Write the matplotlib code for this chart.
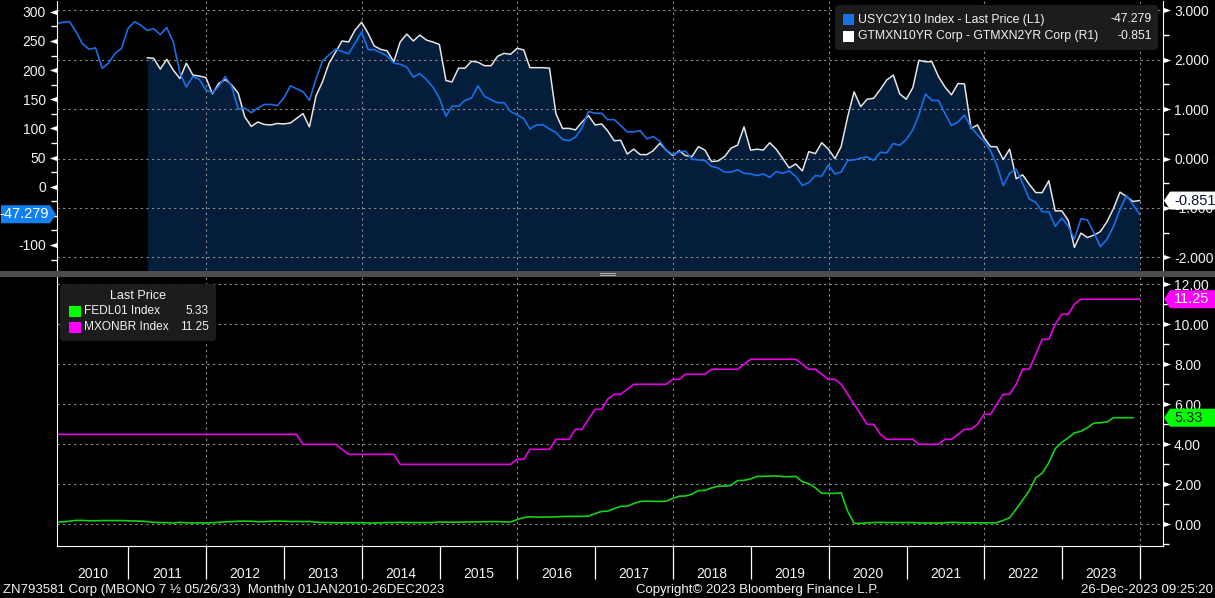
import numpy as np
import pandas as pd
import matplotlib
matplotlib.use('Agg')
import matplotlib.pyplot as plt
import matplotlib.dates as mdates
import matplotlib.ticker as mticker
import matplotlib.transforms as mtransforms
from matplotlib.patches import Polygon, Rectangle, FancyBboxPatch
from matplotlib.lines import Line2D
from matplotlib.path import Path

plt.rcParams['font.family'] = ['Liberation Sans', 'DejaVu Sans']

# month-end points, Jan 2010 .. Dec 2023
months = pd.date_range('2010-02-01', periods=168, freq='MS') - pd.Timedelta(days=1)

# USYC2Y10 Index (bp, left axis L1)
usyc2y10 = [
    280, 282, 283, 266, 245, 236, 238, 203, 212, 229, 237, 272,
    283, 277, 268, 271, 261, 273, 248, 195, 171, 189, 184, 166,
    161, 172, 189, 172, 133, 135, 127, 135, 141, 141, 139, 152,
    173, 168, 163, 148, 185, 215, 226, 236, 232, 228, 246, 265,
    235, 235, 230, 224, 212, 210, 205, 188, 194, 184, 171, 152,
    121, 138, 138, 148, 152, 173, 155, 149, 144, 144, 129, 123,
    117, 99, 106, 106, 99, 93, 81, 79, 85, 101, 129, 126,
    126, 115, 115, 105, 94, 94, 96, 82, 86, 78, 63, 55,
    60, 61, 47, 46, 45, 35, 32, 25, 25, 29, 23, 22,
    19, 22, 16, 26, 23, 27, 18, 2, 7, 19, 18, 37,
    22, 25, 45, 46, 49, 51, 45, 59, 58, 74, 71, 81,
    98, 123, 159, 148, 148, 126, 105, 111, 123, 102, 89, 78,
    61, 38, 2, 23, 30, 6, -21, -27, -43, -43, -68, -54,
    -68, -90, -55, -57, -79, -103, -90, -68, -39, -15, -31, -47.279,
]

# GTMXN10YR Corp - GTMXN2YR Corp (pct, right axis R1), starts Mar 2011
gtmxn_start = 14
gtmxn_10y2y = [
    2.04, 2.03, 1.81, 2.01, 1.79, 1.62, 1.93, 1.69, 1.67, 1.64,
    1.31, 1.52, 1.60, 1.49, 1.32, 0.85, 0.65, 0.74, 0.69, 0.68, 0.71, 0.70,
    0.72, 0.81, 0.91, 0.64, 1.27, 1.55, 1.93, 2.16, 2.38, 2.36, 2.60, 2.76,
    2.53, 2.28, 2.21, 2.18, 1.96, 2.36, 2.52, 2.38, 2.50, 2.40, 2.36, 2.31,
    1.58, 1.55, 1.83, 1.83, 1.97, 1.95, 1.88, 1.88, 2.07, 2.13, 2.11, 2.23,
    2.20, 1.84, 1.84, 1.84, 1.83, 0.91, 0.61, 0.61, 0.58, 0.74, 0.87, 0.68,
    0.70, 0.56, 0.36, 0.37, 0.09, 0.19, 0.08, 0.08, 0.16, 0.31, 0.17, 0.06,
    0.16, 0.06, 0.04, 0.24, 0.17, -0.06, -0.05, 0.04, 0.21, 0.27, 0.64, 0.17,
    0.19, 0.17, 0.32, 0.19, 0.00, -0.19, -0.11, -0.25, 0.14, 0.10, 0.32, 0.19,
    0.00, 0.24, 0.85, 1.35, 1.05, 1.20, 1.22, 1.40, 1.59, 1.69, 1.31, 1.20,
    1.44, 1.99, 1.96, 1.96, 1.66, 1.45, 1.29, 1.52, 1.51, 0.61, 0.68, 0.42,
    0.24, 0.24, -0.02, 0.19, -0.41, -0.33, -0.52, -0.69, -0.69, -0.45, -1.06, -1.06,
    -1.26, -1.80, -1.51, -1.60, -1.55, -1.48, -1.28, -1.01, -0.68, -0.77, -0.87, -0.851,
]

# FEDL01 Index (Jan 2010 .. Nov 2023)
fedl01 = [
    0.11, 0.13, 0.16, 0.20, 0.20, 0.18, 0.18, 0.19, 0.19, 0.19, 0.19, 0.18,
    0.17, 0.16, 0.14, 0.10, 0.09, 0.09, 0.07, 0.10, 0.08, 0.07, 0.08, 0.07,
    0.08, 0.10, 0.13, 0.14, 0.16, 0.16, 0.16, 0.13, 0.14, 0.16, 0.16, 0.16,
    0.14, 0.15, 0.14, 0.15, 0.11, 0.09, 0.09, 0.08, 0.08, 0.09, 0.08, 0.09,
    0.07, 0.07, 0.08, 0.09, 0.09, 0.10, 0.09, 0.09, 0.09, 0.09, 0.09, 0.12,
    0.11, 0.11, 0.11, 0.12, 0.12, 0.13, 0.13, 0.14, 0.14, 0.12, 0.12, 0.24,
    0.34, 0.38, 0.36, 0.37, 0.37, 0.38, 0.39, 0.40, 0.40, 0.40, 0.41, 0.54,
    0.65, 0.66, 0.79, 0.90, 0.91, 1.04, 1.15, 1.16, 1.15, 1.15, 1.16, 1.30,
    1.41, 1.42, 1.51, 1.69, 1.70, 1.82, 1.91, 1.91, 1.95, 2.19, 2.20, 2.27,
    2.40, 2.40, 2.41, 2.42, 2.39, 2.38, 2.40, 2.13, 2.04, 1.83, 1.55, 1.55,
    1.55, 1.58, 0.65, 0.05, 0.05, 0.08, 0.09, 0.10, 0.09, 0.09, 0.09, 0.09,
    0.09, 0.08, 0.07, 0.07, 0.06, 0.08, 0.10, 0.09, 0.08, 0.08, 0.08, 0.08,
    0.08, 0.08, 0.20, 0.33, 0.77, 1.21, 1.68, 2.33, 2.56, 3.08, 3.78, 4.10,
    4.33, 4.57, 4.65, 4.83, 5.06, 5.08, 5.12, 5.33, 5.33, 5.33, 5.33,
]

# MXONBR Index
mxonbr = (
    [4.5] * 36
    + [4.5, 4.5, 4.0, 4.0, 4.0, 4.0, 4.0, 4.0, 3.75, 3.5, 3.5, 3.5]
    + [3.5, 3.5, 3.5, 3.5, 3.5, 3.0, 3.0, 3.0, 3.0, 3.0, 3.0, 3.0]
    + [3.0] * 11 + [3.25]
    + [3.25, 3.75, 3.75, 3.75, 3.75, 4.25, 4.25, 4.25, 4.75, 4.75, 5.25, 5.75]
    + [5.75, 6.25, 6.5, 6.5, 6.75, 7.0, 7.0, 7.0, 7.0, 7.0, 7.0, 7.25]
    + [7.25, 7.5, 7.5, 7.5, 7.5, 7.75, 7.75, 7.75, 7.75, 7.75, 8.0, 8.25]
    + [8.25] * 7 + [8.0, 7.75, 7.75, 7.5, 7.25]
    + [7.25, 7.0, 6.5, 6.0, 5.5, 5.0, 5.0, 4.5, 4.25, 4.25, 4.25, 4.25]
    + [4.25, 4.0, 4.0, 4.0, 4.0, 4.25, 4.25, 4.5, 4.75, 4.75, 5.0, 5.5]
    + [5.5, 6.0, 6.5, 6.5, 7.0, 7.75, 7.75, 8.5, 9.25, 9.25, 10.0, 10.5]
    + [10.5, 11.0] + [11.25] * 10
)

years = list(range(2010, 2024))
top_left_ticks = [300, 250, 200, 150, 100, 50, 0, -100]   # -50 sits under the value tag
top_right_ticks = [3, 2, 1, 0, -1, -2]
bottom_ticks = [0, 2, 4, 6, 8, 10, 12]

label_usyc = 'USYC2Y10 Index - Last Price (L1)'
label_gtmxn = 'GTMXN10YR Corp - GTMXN2YR Corp (R1)'
label_fed = 'FEDL01 Index'
label_mx = 'MXONBR Index'
footer_left = 'ZN793581 Corp (MBONO 7 \u00bd 05/26/33)  Monthly 01JAN2010-26DEC2023'
footer_mid = 'Copyright\u00a9 2023 Bloomberg Finance L.P.'
footer_right = '26-Dec-2023 09:25:20'

BLUE = '#1870e6'
TAG_BLUE = '#1280f2'
WHITE = '#e6e6e6'
FILL = '#031d3b'
GREEN = '#14d214'
TAG_GREEN = '#00ff00'
MAG = '#e800e8'
TAG_MAG = '#ff00ff'
GRID = '#8c8c8c'
LEG_BG = '#1c1c1c'
TXT = '#f2f2f2'

W, H = 1215, 598
fig = plt.figure(figsize=(W / 100, H / 100), dpi=100, facecolor='black')
PX = mtransforms.IdentityTransform()


def frect(x0, y0, x1, y1):
    return [x0 / W, 1 - y1 / H, (x1 - x0) / W, (y1 - y0) / H]


def ptext(x, y, s, **kw):
    kw.setdefault('color', TXT)
    kw.setdefault('fontsize', 9.5)
    return fig.text(x, H - y, s, transform=PX, **kw)


x = mdates.date2num(months.to_pydatetime())
xlim = (x[0], mdates.date2num(pd.Timestamp('2024-04-19').to_pydatetime()))
even_years = mdates.date2num([pd.Timestamp(f'{y}-01-01').to_pydatetime() for y in range(2012, 2025, 2)])
year_starts = mdates.date2num([pd.Timestamp(f'{y}-01-01').to_pydatetime() for y in range(2011, 2025)])
label_pos = []
for y in years:
    lo = max(mdates.date2num(pd.Timestamp(f'{y}-01-01').to_pydatetime()), x[0])
    hi = mdates.date2num(pd.Timestamp(f'{y + 1}-01-01').to_pydatetime())
    label_pos.append((lo + hi) / 2)

axL = fig.add_axes(frect(57, 1, 1163, 270))
axR = axL.twinx()
axB = fig.add_axes(frect(57, 277, 1163, 546))
axR.set_zorder(0.1)
axL.set_zorder(0.3)
axB.set_zorder(0.1)
for a in (axL, axR, axB):
    a.patch.set_visible(False)
    for s in a.spines.values():
        s.set_visible(False)

dash = (0, (2, 3))

# ---- top panel ----
axR.fill_between(x[gtmxn_start:], gtmxn_10y2y, -5, color=FILL, lw=0, zorder=1)
axR.plot(x[gtmxn_start:], gtmxn_10y2y, color=WHITE, lw=1.1, zorder=2)
axL.plot(x, usyc2y10, color=BLUE, lw=1.2, zorder=2)
for v in even_years:
    axR.axvline(v, color=GRID, lw=0.8, ls=dash, zorder=1.5)

axL.spines['left'].set_visible(True)
axL.spines['left'].set_color('white')
axR.spines['right'].set_visible(True)
axR.spines['right'].set_color('white')
axL.tick_params(axis='x', which='both', bottom=False, labelbottom=False)

axL.yaxis.set_major_locator(mticker.FixedLocator(top_left_ticks))
axL.yaxis.set_major_formatter(mticker.FuncFormatter(lambda v, p: f'{v:.0f}'))
axL.yaxis.set_minor_locator(mticker.MultipleLocator(25))
axL.tick_params(axis='y', which='major', length=0, pad=8, labelsize=10, labelcolor=TXT)
axL.tick_params(axis='y', which='minor', length=4, width=1, color='white')

axR.yaxis.set_major_locator(mticker.FixedLocator(top_right_ticks))
axR.yaxis.set_major_formatter(mticker.FuncFormatter(lambda v, p: f'{v:.3f}'))
axR.yaxis.set_minor_locator(mticker.MultipleLocator(0.5))
axR.tick_params(axis='y', which='major', length=0, pad=8, labelsize=10, labelcolor=TXT)
axR.tick_params(axis='y', which='minor', length=4, width=1, color='white')
axR.grid(axis='y', which='major', color=GRID, lw=0.8, ls=dash)
axR.set_axisbelow('line')

# ---- bottom panel ----
axB.plot(x[:len(fedl01)], fedl01, color=GREEN, lw=1.2, zorder=2)
axB.plot(x, mxonbr, color=MAG, lw=1.2, zorder=2)
for v in even_years:
    axB.axvline(v, color=GRID, lw=0.8, ls=dash, zorder=1.5)
for side in ('left', 'right', 'bottom'):
    axB.spines[side].set_visible(True)
    axB.spines[side].set_color('white')
axB.yaxis.tick_right()
axB.yaxis.set_major_locator(mticker.FixedLocator(bottom_ticks))
axB.yaxis.set_major_formatter(mticker.FuncFormatter(lambda v, p: f'{v:.2f}'))
axB.yaxis.set_minor_locator(mticker.MultipleLocator(1))
axB.tick_params(axis='y', which='major', length=0, pad=8, labelsize=10, labelcolor=TXT)
axB.tick_params(axis='y', which='minor', length=4, width=1, color='white')
axB.grid(axis='y', which='major', color=GRID, lw=0.8, ls=dash)
axB.set_axisbelow('line')

axB.xaxis.set_major_locator(mticker.FixedLocator(year_starts))
axB.xaxis.set_major_formatter(mticker.NullFormatter())
axB.xaxis.set_minor_locator(mticker.FixedLocator(label_pos))
axB.xaxis.set_minor_formatter(mticker.FixedFormatter([str(y) for y in years]))
axB.tick_params(axis='x', which='major', length=24, width=0.9, color='white', direction='out')
axB.tick_params(axis='x', which='minor', length=0, pad=15, labelsize=10, labelcolor=TXT)

# triangle tick heads
tri_l = Path([(0, 0.42), (-1.2, 0), (0, -0.42), (0, 0.42)],
             [Path.MOVETO, Path.LINETO, Path.LINETO, Path.CLOSEPOLY])
tri_r = Path([(0, 0.42), (1.2, 0), (0, -0.42), (0, 0.42)],
             [Path.MOVETO, Path.LINETO, Path.LINETO, Path.CLOSEPOLY])


def tick_heads(ax, vals, side):
    tr = mtransforms.blended_transform_factory(ax.transAxes, ax.transData)
    xx = 0 if side == 'left' else 1
    ax.plot([xx] * len(vals), vals, ls='none', marker=tri_l if side == 'left' else tri_r,
            ms=11, color='white', mew=0, transform=tr, clip_on=False, zorder=6)


tick_heads(axL, top_left_ticks, 'left')
tick_heads(axR, top_right_ticks, 'right')
tick_heads(axB, bottom_ticks, 'right')
axL.set_ylim(-142.9, 318.5)
axR.set_ylim(-2.257, 3.19)
axB.set_ylim(-1.08, 12.36)
axL.set_xlim(xlim)
axB.set_xlim(xlim)


# ---- last value tags ----
def tag_right(ax, value, text, face, tcolor):
    yc = ax.transData.transform((xlim[0], value))[1]
    x0 = ax.transAxes.transform((1, 0))[0]
    pts = [(x0 + 1, yc), (x0 + 7, yc + 9), (W + 2, yc + 9), (W + 2, yc - 9), (x0 + 7, yc - 9)]
    fig.add_artist(Polygon(pts, closed=True, transform=PX, facecolor=face, edgecolor='none', zorder=5))
    fig.text(x0 + 11, yc, text, transform=PX, ha='left', va='center', color=tcolor,
             fontsize=10.5, zorder=6)


def tag_left(ax, value, text, face, tcolor):
    yc = ax.transData.transform((xlim[0], value))[1]
    x0 = ax.transAxes.transform((0, 0))[0]
    pts = [(x0 - 1, yc), (x0 - 7, yc + 9), (1, yc + 9), (1, yc - 9), (x0 - 7, yc - 9)]
    fig.add_artist(Polygon(pts, closed=True, transform=PX, facecolor=face, edgecolor='none', zorder=5))
    fig.text(x0 - 8, yc, text, transform=PX, ha='right', va='center', color=tcolor,
             fontsize=10.5, zorder=6)


tag_left(axL, usyc2y10[-1], f'{usyc2y10[-1]:.3f}', TAG_BLUE, 'white')
tag_right(axR, gtmxn_10y2y[-1], f'{gtmxn_10y2y[-1]:.3f}', 'white', '#0a1430')
tag_right(axB, mxonbr[-1], f'{mxonbr[-1]:.2f}', TAG_MAG, 'white')
tag_right(axB, fedl01[-1], f'{fedl01[-1]:.2f}', TAG_GREEN, '#0a1a0a')

# ---- legends ----
fig.add_artist(FancyBboxPatch((835, H - 50), 323, 45, boxstyle='round,pad=0,rounding_size=4',
                              transform=PX, facecolor=LEG_BG, edgecolor='none', zorder=4))
for yy, col, lab, val in [(19.5, BLUE, label_usyc, f'{usyc2y10[-1]:.3f}'),
                          (36, 'white', label_gtmxn, f'{gtmxn_10y2y[-1]:.3f}')]:
    fig.add_artist(Rectangle((843, H - yy - 5.5), 11, 11, transform=PX, facecolor=col,
                             edgecolor='none', zorder=5))
    ptext(858, yy, lab, ha='left', va='center', fontsize=8.8, zorder=6)
    ptext(1152, yy, val, ha='right', va='center', fontsize=8.8, zorder=6)

fig.add_artist(FancyBboxPatch((60, H - 341), 156, 57, boxstyle='round,pad=0,rounding_size=4',
                              transform=PX, facecolor=LEG_BG, edgecolor='none', zorder=4))
ptext(138, 296, 'Last Price', ha='center', va='center', fontsize=9, zorder=6)
for yy, col, lab, val in [(311.5, TAG_GREEN, label_fed, f'{fedl01[-1]:.2f}'),
                          (327.5, TAG_MAG, label_mx, f'{mxonbr[-1]:.2f}')]:
    fig.add_artist(Rectangle((69, H - yy - 5.5), 12, 11, transform=PX, facecolor=col,
                             edgecolor='none', zorder=5))
    ptext(84, yy, lab, ha='left', va='center', fontsize=8.6, zorder=6)
    ptext(209, yy, val, ha='right', va='center', fontsize=8.6, zorder=6)

# ---- panel divider ----
fig.add_artist(Rectangle((0, H - 277), W, 6, transform=PX, facecolor='#4c4c4c',
                         edgecolor='none', zorder=3))
for yy in (272.8, 274.8):
    fig.add_artist(Line2D([600, 615], [H - yy, H - yy], transform=PX, color='#b4b4b4',
                          lw=0.7, zorder=4))

# ---- footer ----
ptext(3, 590, footer_left, ha='left', va='center')
ptext(636, 590, footer_mid, ha='left', va='center')
ptext(1213, 590, footer_right, ha='right', va='center')

fig.savefig('out.png', dpi=100, facecolor='black')
